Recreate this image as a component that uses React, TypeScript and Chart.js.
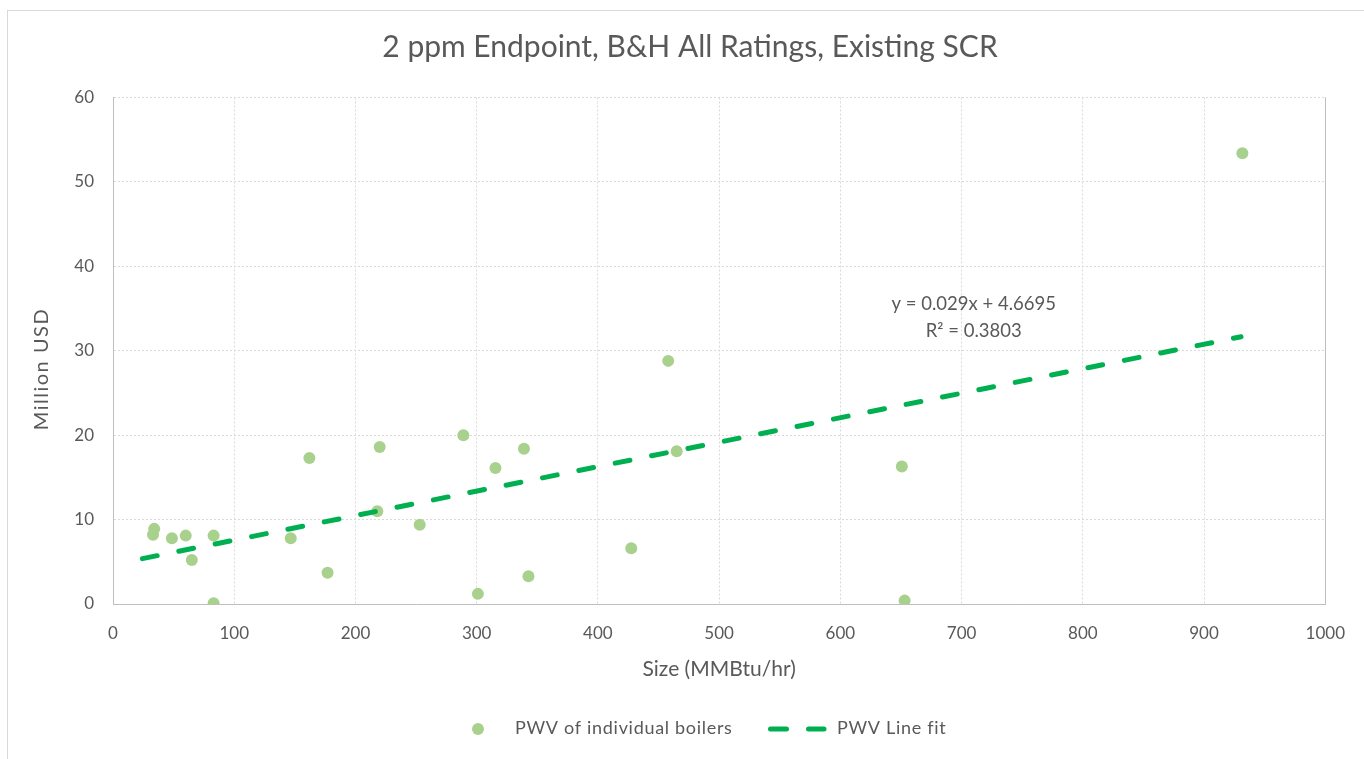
import React, { useEffect, useRef } from "react";
import { Chart, registerables } from "chart.js";

Chart.register(...registerables);

// ---- data ----
const boilerSize: number[] = [33, 34, 48.6, 60, 65, 83, 83, 146.6, 162, 177, 218, 220, 253, 289, 301, 315.5, 339, 342.7, 427.5, 458, 465, 650.7, 653, 931.6];
const boilerPWV: number[] = [8.2, 8.9, 7.8, 8.1, 5.2, 8.1, 0.1, 7.8, 17.3, 3.7, 11.0, 18.6, 9.4, 20.0, 1.2, 16.1, 18.4, 3.3, 6.6, 28.8, 18.1, 16.3, 0.4, 53.4];
const fitX: number[] = [24.3, 930.5];
const fitY: number[] = [5.374, 31.654];
const equationLines: string[] = ["y = 0.029x + 4.6695", "R² = 0.3803"];
const titleText = "2 ppm Endpoint, B&H All Ratings, Existing SCR";
const xTitle = "Size (MMBtu/hr)";
const yTitle = "Million USD";
const legendLabels: string[] = ["PWV of individual boilers", "PWV Line fit"];

const TEXT = "#595959";
const POINT = "#A9D18E";
const LINE = "#00B050";
const GRID = "#d9d9d9";
const AXIS = "#bfbfbf";
const FONT = "Lato";

const decorPlugin = {
  id: "decor",
  beforeDraw(chart: any) {
    const ctx = chart.ctx;
    ctx.save();
    ctx.strokeStyle = GRID;
    ctx.lineWidth = 1;
    ctx.strokeRect(7.5, 10.5, 1400, 800);
    ctx.restore();
  },
  afterDraw(chart: any) {
    const ctx = chart.ctx;
    const { chartArea, scales } = chart;
    ctx.save();
    // right border of plot
    ctx.strokeStyle = AXIS;
    ctx.lineWidth = 1;
    ctx.beginPath();
    ctx.moveTo(Math.round(chartArea.right) + 0.5, chartArea.top);
    ctx.lineTo(Math.round(chartArea.right) + 0.5, chartArea.bottom);
    ctx.stroke();

    // y axis title
    ctx.fillStyle = TEXT;
    ctx.textAlign = "center";
    ctx.textBaseline = "middle";
    ctx.save();
    ctx.font = `20px ${FONT}`;
    (ctx as any).letterSpacing = "1.5px";
    ctx.translate(42, 369);
    ctx.rotate(-Math.PI / 2);
    ctx.fillText(yTitle, 0, 0);
    ctx.restore();

    // equation
    const ex = scales.x.getPixelForValue(710);
    ctx.font = `18.5px ${FONT}`;
    ctx.fillText(equationLines[0], ex, scales.y.getPixelForValue(35.5));
    ctx.fillText(equationLines[1], ex, scales.y.getPixelForValue(32.3));

    // legend
    const ly = 728;
    ctx.fillStyle = POINT;
    ctx.beginPath();
    ctx.arc(478, ly + 1, 6, 0, Math.PI * 2);
    ctx.fill();
    ctx.fillStyle = TEXT;
    ctx.textAlign = "left";
    ctx.font = `18px ${FONT}`;
    (ctx as any).letterSpacing = "0.7px";
    ctx.fillText(legendLabels[0], 515, ly);
    ctx.strokeStyle = LINE;
    ctx.lineWidth = 5;
    ctx.lineCap = "round";
    ctx.beginPath();
    ctx.moveTo(770.5, ly + 1);
    ctx.lineTo(786.5, ly + 1);
    ctx.moveTo(808.5, ly + 1);
    ctx.lineTo(824, ly + 1);
    ctx.stroke();
    ctx.fillText(legendLabels[1], 837, ly);
    (ctx as any).letterSpacing = "0px";
    ctx.restore();
  },
};

export default function App() {
  const ref = useRef<HTMLCanvasElement | null>(null);
  useEffect(() => {
    if (!ref.current) return;
    const chart = new Chart(ref.current, {
      type: "scatter",
      data: {
        datasets: [
          {
            label: legendLabels[0],
            data: boilerSize.map((x, i) => ({ x, y: boilerPWV[i] })),
            backgroundColor: POINT,
            borderWidth: 0,
            pointRadius: 6,
            pointHoverRadius: 6,
            order: 2,
          },
          {
            type: "line",
            label: legendLabels[1],
            data: fitX.map((x, i) => ({ x, y: fitY[i] })),
            borderColor: LINE,
            borderWidth: 5,
            borderDash: [15, 22.1],
            borderCapStyle: "round",
            pointRadius: 0,
            fill: false,
            showLine: true,
            order: 1,
          } as any,
        ],
      },
      options: {
        responsive: false,
        animation: false,
        layout: { padding: { left: 53, right: 37, top: 0, bottom: 77 } },
        plugins: {
          legend: { display: false },
          tooltip: { enabled: false },
          title: {
            display: true,
            text: titleText,
            color: TEXT,
            font: { family: FONT, size: 30, weight: "normal" },
            padding: { top: 29.5, bottom: 32 },
          },
        },
        scales: {
          x: {
            type: "linear",
            min: 0,
            max: 1000,
            ticks: {
              stepSize: 100,
              color: TEXT,
              font: { family: FONT, size: 17 },
              padding: 19,
              maxRotation: 0,
              callback: (v: any) => String(v),
            },
            grid: { color: GRID, drawTicks: false },
            border: { color: AXIS, width: 1, dash: [2, 2] },
            title: { display: true, text: xTitle, color: TEXT, font: { family: FONT, size: 21 }, padding: { top: 0, bottom: 0 } },
            afterFit: (s: any) => { s.height = 78; },
          },
          y: {
            type: "linear",
            min: 0,
            max: 60,
            ticks: { stepSize: 10, color: TEXT, font: { family: FONT, size: 17 }, padding: 19 },
            grid: { color: GRID, drawTicks: false },
            border: { color: AXIS, width: 1, dash: [2, 2] },
            afterFit: (s: any) => { s.width = 60; },
          },
        },
      },
      plugins: [decorPlugin],
    });
    return () => chart.destroy();
  }, []);
  return (
    <div style={{ position: "fixed", left: 0, top: 0, width: 1364, height: 759, background: "#fff", overflow: "hidden" }}>
      <canvas ref={ref} width={1364} height={759} />
    </div>
  );
}
